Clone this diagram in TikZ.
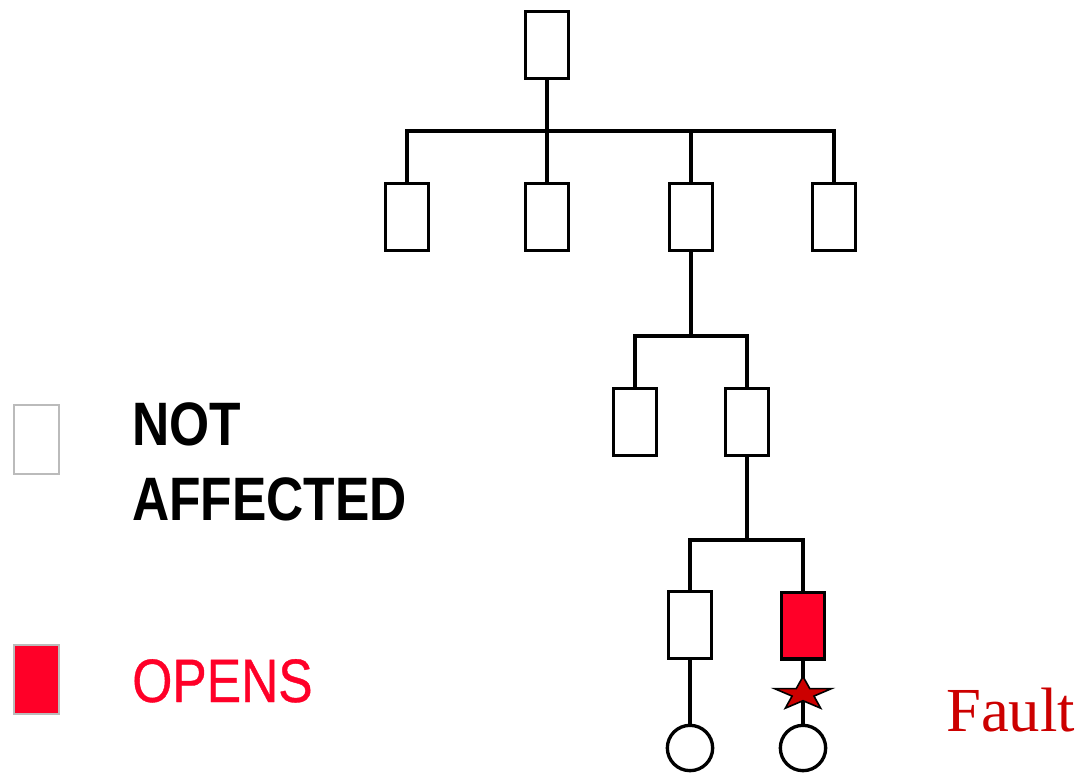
\documentclass[tikz,border=0pt]{standalone}
\usepackage{fontspec}
\newfontfamily\legendfont[FakeStretch=0.84]{Liberation Sans}
\newfontfamily\faultfont{Liberation Serif}
\definecolor{opred}{RGB}{255,0,40}
\definecolor{faultred}{RGB}{204,0,0}
\definecolor{legendgray}{RGB}{187,187,187}
\begin{document}
\begin{tikzpicture}[x=0.75pt,y=-0.75pt,
  box/.style={draw=black, line width=2.5pt, fill=white, minimum width=32pt, minimum height=50pt, inner sep=0pt},
  openbox/.style={box, fill=opred},
  leaf/.style={circle, draw=black, line width=2.5pt, fill=white, minimum size=34pt, inner sep=0pt},
  legbox/.style={draw=legendgray, line width=1.5pt, minimum width=33.75pt, minimum height=51.75pt, inner sep=0pt},
  wire/.style={draw=black, line width=2.5pt},
  legtext/.style={font=\legendfont\fontsize{46pt}{56pt}\selectfont, inner sep=0pt, align=left}
]
\useasboundingbox (0,0) rectangle (1084,774);
% tree nodes
\node[box] (top) at (547,45) {};
\node[box] (c1) at (407,217) {};
\node[box] (c2) at (547,217) {};
\node[box] (c3) at (691,217) {};
\node[box] (c4) at (834,217) {};
\node[box] (d1) at (635,422) {};
\node[box] (d2) at (747,422) {};
\node[box] (e1) at (690,625) {};
\node[openbox] (e2) at (803,625.5) {};
\node[leaf] (f1) at (690,748) {};
\node[leaf] (f2) at (803,748) {};
% junctions
\coordinate (j1) at (547,131);
\coordinate (j2) at (691,336);
\coordinate (j3) at (747,540);
% connectors
\draw[wire] (top.south) -- (j1);
\draw[wire] (j1) -| (c1.north);
\draw[wire] (j1) -- (c2.north);
\draw[wire] (j1) -| (c3.north);
\draw[wire] (j1) -| (c4.north);
\draw[wire] (c3.south) -- (j2);
\draw[wire] (j2) -| (d1.north);
\draw[wire] (j2) -| (d2.north);
\draw[wire] (d2.south) -- (j3);
\draw[wire] (j3) -| (e1.north);
\draw[wire] (j3) -| (e2.north);
\draw[wire] (e1.south) -- (f1.north);
\draw[wire] (e2.south) -- (f2.north);
% fault star
\coordinate (star) at (803,694);
\begin{scope}[shift={(star)}]
\draw[fill=faultred, draw=black, line width=1.2pt, line join=miter]
  plot[samples at={0,...,9}] ({(mod(\x,2)==0 ? 30 : 11.5)*cos(90+36*\x)}, {-(mod(\x,2)==0 ? 17.5 : 6.7)*sin(90+36*\x)}) -- cycle;
\end{scope}
\node[font=\faultfont\fontsize{47pt}{56pt}\selectfont, text=faultred, anchor=base west, inner sep=0pt] (fault) at (946,731) {Fault};
% legend
\node[legbox, fill=white] (lg1) at (36.5,439.5) {};
\node[legbox, fill=opred] (lg2) at (36.5,679) {};
\node[legtext, anchor=base west, font=\legendfont\bfseries\fontsize{46pt}{56pt}\selectfont] (na) at (132,520) {NOT\\AFFECTED};
\node[legtext, anchor=base west, text=opred, font=\legendfont\fontsize{46pt}{56pt}\selectfont\addfontfeatures{FakeBold=0.6}] (op) at (132,702) {OPENS};
\end{tikzpicture}
\end{document}
